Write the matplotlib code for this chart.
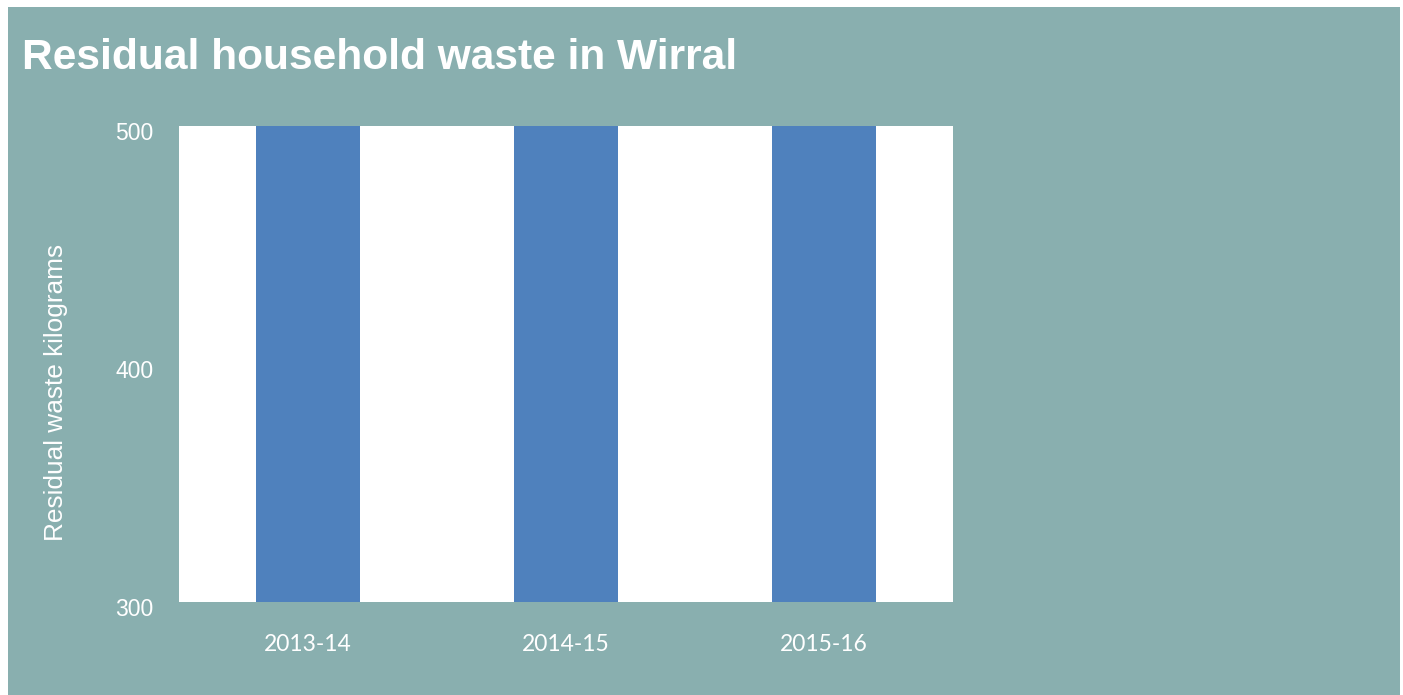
import matplotlib.pyplot as plt
from matplotlib.patches import Rectangle
from matplotlib.transforms import ScaledTranslation

# data (bars are clipped at the top of the axis in the original chart)
years = ["2013-14", "2014-15", "2015-16"]
residual_kg = [560, 555, 550]

bg_color = "#89AFAF"
bar_color = "#4F81BD"

fig = plt.figure(figsize=(14.03, 6.95), dpi=100)
fig.patch.set_facecolor("white")
# teal panel inside a thin white margin
fig.patches.append(Rectangle((8 / 1403, 0), (1400 - 8) / 1403, (695 - 7) / 695,
                             transform=fig.transFigure, facecolor=bg_color,
                             edgecolor="none", zorder=-5))

ax = fig.add_axes([179 / 1403, (695 - 602) / 695, 774 / 1403, 476 / 695])
ax.set_zorder(2)
ax.set_facecolor("white")
ax.bar(range(len(years)), residual_kg, width=0.403, color=bar_color)

ax.set_xlim(-0.5, len(years) - 0.5)
ax.set_ylim(300, 500)
ax.set_yticks([300, 400, 500])
ax.set_xticks(range(len(years)))
ax.set_xticklabels(years)

for s in ax.spines.values():
    s.set_visible(False)
ax.tick_params(axis="both", length=0, colors="white")
ax.tick_params(axis="y", pad=18.5, labelsize=16.5)
ax.tick_params(axis="x", pad=23, labelsize=16.5)
for lab in ax.get_xticklabels():
    lab.set_fontfamily("Lato")
# y labels sit a few pixels below their tick positions in the original
shift = ScaledTranslation(0, -4.5 / 100, fig.dpi_scale_trans)
for lab in ax.get_yticklabels():
    lab.set_fontfamily("Liberation Sans")
    lab.set_transform(lab.get_transform() + shift)

ax.set_ylabel("Residual waste kilograms", fontsize=18.9, color="white",
              fontfamily="Liberation Sans")
ax.yaxis.set_label_coords(-0.143, 0.441)

fig.text(22 / 1403, 1 - 58 / 695, "Residual household waste in Wirral",
         fontsize=30.6, fontweight="bold", color="white",
         fontfamily="Liberation Sans", va="center", ha="left")

fig.savefig("out.png", dpi=100, facecolor=fig.get_facecolor())
